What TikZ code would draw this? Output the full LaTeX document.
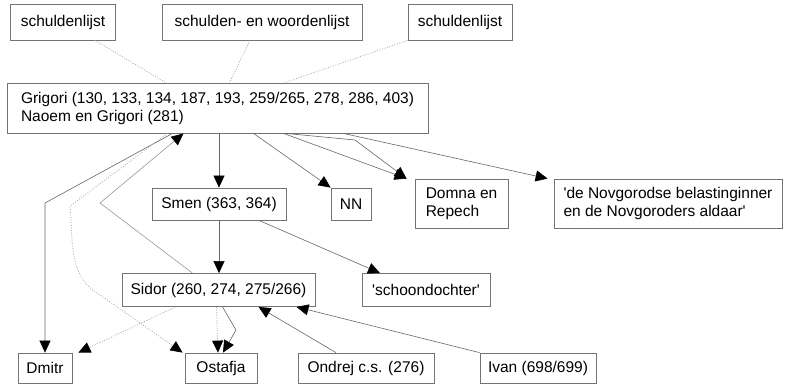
\documentclass[tikz,border=0pt]{standalone}
\usepackage{fontspec}
\setmainfont{Liberation Sans}
\usetikzlibrary{arrows.meta,positioning,calc}

\begin{document}
\begin{tikzpicture}[x=1pt,y=-1pt,
    box/.style={draw=black!55,line width=.8pt,fill=white,inner sep=2pt,align=left,
      font=\fontsize{15.5}{18}\selectfont},
    link/.style={draw=black!60,line width=.6pt,-{Triangle[length=12pt,width=11pt,color=black]}},
    faint/.style={draw=black!40,line width=.6pt,-{Triangle[length=12pt,width=11pt,color=black]}},
    dotlink/.style={draw=black!35,line width=.7pt,dash pattern=on 1pt off 1.6pt,-{Triangle[length=12pt,width=11pt,color=black]}},
    source/.style={draw=black!35,line width=.7pt,dash pattern=on 1pt off 1.6pt}]
    \useasboundingbox (0,0) rectangle (786,389);

    % sources
    \node[box,minimum width=105,minimum height=36] (lijst1) at (63,22) {schuldenlijst};
    \node[box,minimum width=200,minimum height=36] (lijst2) at (262,22) {schulden- en woordenlijst};
    \node[box,minimum width=104,minimum height=36] (lijst3) at (460,22) {schuldenlijst};

    % persons
    \node[box,minimum width=421,minimum height=50] (grigori) at (217.5,108)
      {Grigori (130, 133, 134, 187, 193, 259/265, 278, 286, 403)\\Naoem en Grigori (281)};
    \node[box,minimum width=134,minimum height=32] (smen) at (219,204) {Smen (363, 364)};
    \node[box,minimum width=40,minimum height=32] (nn) at (351,204) {NN};
    \node[box,minimum width=93,minimum height=49] (domna) at (461.5,203.5) {Domna en\\Repech};
    \node[box,minimum width=228,minimum height=49] (novg) at (668,203.5)
      {\textquotesingle de Novgorodse belastinginner\\en de Novgoroders aldaar\textquotesingle};
    \node[box,minimum width=193,minimum height=33] (sidor) at (218.5,290) {Sidor (260, 274, 275/266)};
    \node[box,minimum width=128,minimum height=33] (schoon) at (426,290) {\textquotesingle schoondochter\textquotesingle};
    \node[box,minimum width=54,minimum height=30] (dmitr) at (45,368) {Dmitr};
    \node[box,minimum width=72,minimum height=30] (ostafja) at (221,368) {Ostafja};
    \node[box,minimum width=136,minimum height=30] (ondrej) at (366,368) {Ondrej c.s. (276)};
    \node[box,minimum width=116,minimum height=30] (ivan) at (538,368) {Ivan (698/699)};

    % sources to Grigori
    \draw[source] ([xshift=32pt]lijst1.south) -- ([xshift=-52pt]grigori.north);
    \draw[source] ([xshift=-12pt]lijst2.south) -- ([xshift=12pt]grigori.north);
    \draw[source] (lijst3.south west) -- ([xshift=67pt]grigori.north);

    % from Grigori
    \draw[link] (grigori.south -| smen.north) -- (smen.north);
    \draw[link] ([xshift=36pt]grigori.south) -- (nn.north west);
    \draw[link] ([xshift=66pt]grigori.south) -- ([xshift=-8pt]domna.north west);
    \draw[link] ([xshift=68pt]grigori.south) -- (355,140) -- ([xshift=-8pt]domna.north west);
    \draw[link] ([xshift=126pt]grigori.south) -- ([xshift=-6pt]novg.north west);
    \draw[link] ([xshift=-45pt]grigori.south) -- (45,203) -- (dmitr.north -| 45,0);
    \draw[dotlink] ([xshift=-50pt]grigori.south) -- (70,206) to[out=-85,in=150] (100,295)
      -- ([xshift=-2pt]ostafja.north west);

    % Smen
    \draw[link] (smen.south) -- (smen.south |- sidor.north);
    \draw[link] ([xshift=40pt]smen.south) -- ([xshift=-46pt]schoon.north);

    % Sidor
    \draw[faint] ([xshift=-26pt]sidor.north) -- (100,203) -- ([xshift=-34pt]grigori.south);
    \draw[dotlink] ([xshift=-43pt]sidor.south) -- ([xshift=6pt]dmitr.north east);
    \draw[dotlink] ([xshift=-2pt]sidor.south) -- ([xshift=-3pt]ostafja.north);
    \draw[link] ([xshift=4pt]sidor.south) -- (236,330) -- ([xshift=2pt]ostafja.north);

    % to Sidor
    \draw[link] ([xshift=-30pt]ondrej.north) -- ([xshift=40pt]sidor.south);
    \draw[link] (ivan.north west) -- ([xshift=78pt]sidor.south);
\end{tikzpicture}
\end{document}
